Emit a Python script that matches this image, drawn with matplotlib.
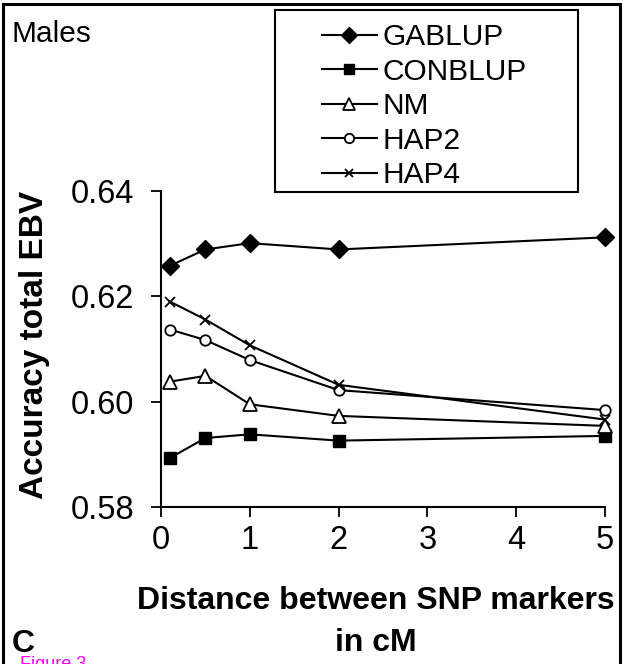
import matplotlib

matplotlib.use("Agg")

import matplotlib.pyplot as plt
from matplotlib.patches import Rectangle

# distance between SNP markers (cM)
distance = [0.1, 0.5, 1, 2, 5]

gablup = [0.6258, 0.6289, 0.6301, 0.6289, 0.6312]
conblup = [0.5893, 0.5931, 0.5938, 0.5926, 0.5935]
nm = [0.6038, 0.6049, 0.5995, 0.5973, 0.5954]
hap2 = [0.6137, 0.6117, 0.6079, 0.6022, 0.5984]
hap4 = [0.6190, 0.6156, 0.6107, 0.6032, 0.5966]

x_ticks = [0, 1, 2, 3, 4, 5]
y_ticks = [0.58, 0.60, 0.62, 0.64]

plt.rcParams["font.family"] = ["Liberation Sans", "DejaVu Sans"]

W, H = 623, 664
fig = plt.figure(figsize=(W / 100, H / 100), dpi=100)
ax = fig.add_axes([161 / W, 1 - 507 / H, (605 - 161) / W, (507 - 191) / H])

style = dict(color="black", linewidth=1.5)
ax.plot(distance, gablup, marker="D", markersize=9, markerfacecolor="black", label="GABLUP", **style)
ax.plot(distance, conblup, marker="s", markersize=8.5, markerfacecolor="black", label="CONBLUP", **style)
ax.plot(distance, nm, marker="^", markersize=9.5, markerfacecolor="white", markeredgewidth=1.3, label="NM", **style)
ax.plot(distance, hap2, marker="o", markersize=7.5, markerfacecolor="white", markeredgewidth=1.3, label="HAP2", **style)
ax.plot(distance, hap4, marker="x", markersize=6.5, markeredgewidth=1.3, label="HAP4", **style)

ax.set_xlim(0, 5)
ax.set_ylim(0.58, 0.64)
ax.set_xticks(x_ticks)
ax.set_yticks(y_ticks)
ax.set_yticklabels([f"{v:.2f}" for v in y_ticks])
ax.spines["top"].set_visible(False)
ax.spines["right"].set_visible(False)
for side in ["left", "bottom"]:
    ax.spines[side].set_linewidth(1.5)
ax.tick_params(axis="both", direction="out", length=7, width=1.3, labelsize=23.5)
ax.tick_params(axis="y", pad=12)
ax.tick_params(axis="x", pad=6)
for line in ax.lines:
    line.set_clip_on(False)

# legend without frame, box drawn separately
leg = ax.legend(
    loc="upper left",
    bbox_to_anchor=(322 / W, 1 - 23 / H),
    bbox_transform=fig.transFigure,
    fontsize=21.5,
    frameon=False,
    handlelength=1.83,
    handletextpad=0.2,
    labelspacing=0.22,
    borderpad=0,
    borderaxespad=0,
)
for h in leg.legend_handles:
    h.set_markersize(h.get_markersize() * 0.9)
fig.patches.append(Rectangle((275 / W, 1 - 192 / H), 303 / W, 182 / H, transform=fig.transFigure,
                             fill=False, edgecolor="black", linewidth=1.5))

fig.text(12 / W, 1 - 20 / H, "Males", fontsize=21.5, ha="left", va="top")
fig.text(35 / W, 1 - 345 / H, "Accuracy total EBV", fontsize=24, fontweight="bold",
         rotation=90, ha="center", va="center")
fig.text(376 / W, 1 - 609 / H, "Distance between SNP markers", fontsize=23,
         fontweight="bold", ha="center", va="baseline")
fig.text(376 / W, 1 - 651 / H, "in cM", fontsize=23, fontweight="bold", ha="center", va="baseline")
fig.text(12 / W, 1 - 652 / H, "C", fontsize=23, fontweight="bold", ha="left", va="baseline")
fig.text(20 / W, 1 - 656 / H, "Figure 3", fontsize=13, color="#ff00ff", ha="left", va="top")

fig.patches.append(Rectangle((3 / W, -0.05), 617 / W, 1.05 - 4 / H, transform=fig.transFigure,
                             fill=False, edgecolor="black", linewidth=2.2))

fig.savefig("out.png", dpi=100)
